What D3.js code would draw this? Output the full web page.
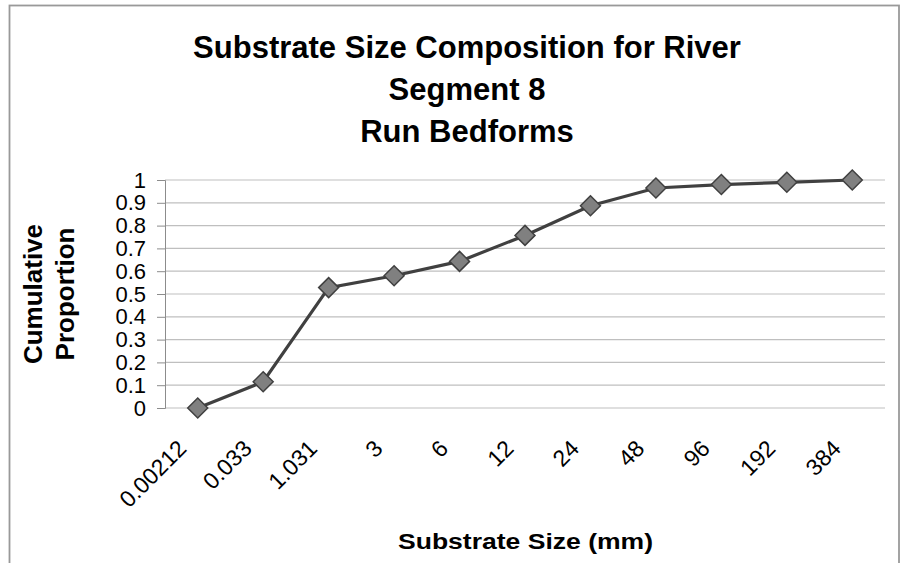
<!DOCTYPE html>
<html><head><meta charset="utf-8">
<script src="https://cdn.jsdelivr.net/npm/d3@7"></script>
<style>body{margin:0;background:#fff}svg{display:block}text{font-family:"Liberation Sans",Arial,sans-serif}</style>
</head><body>
<svg id="c" width="907" height="563"></svg>
<script>
const categories = ["0.00212","0.033","1.031","3","6","12","24","48","96","192","384"];
const values = [0, 0.115, 0.528, 0.58, 0.643, 0.757, 0.887, 0.965, 0.98, 0.99, 1.0];
const yTicks = [0,0.1,0.2,0.3,0.4,0.5,0.6,0.7,0.8,0.9,1];
const titleLines = ["Substrate Size Composition for River","Segment 8","Run Bedforms"];
const yTitleLines = ["Cumulative","Proportion"];
const xTitle = "Substrate Size (mm)";

const svg = d3.select("#c");
svg.append("rect").attr("x",9.5).attr("y",5.5).attr("width",889.5).attr("height",600)
  .attr("fill","#fff").attr("stroke","#999").attr("stroke-width",1.8);

const L=165, R=885, T=180, B=408;
const x = d3.scaleBand().domain(categories).range([L,R]);
const y = d3.scaleLinear().domain([0,1]).range([B,T]);
const cx = d => x(d)+x.bandwidth()/2;

// gridlines
svg.append("g").selectAll("line").data(yTicks).join("line")
  .attr("x1",L).attr("x2",R).attr("y1",d=>y(d)).attr("y2",d=>y(d))
  .attr("stroke","#bfbfbf").attr("stroke-width",1.2);

// y axis
const ya = svg.append("g").attr("transform",`translate(${L},0)`)
  .call(d3.axisLeft(y).tickValues(yTicks).tickSize(8).tickPadding(11).tickFormat(d=>String(+d.toFixed(1))));
ya.select(".domain").attr("stroke","#8c8c8c");
ya.selectAll(".tick line").attr("stroke","#8c8c8c");
ya.selectAll(".tick text").attr("font-size",22).attr("fill","#000").attr("font-family","Liberation Sans, Arial, sans-serif");

// x axis labels
svg.append("g").selectAll("text").data(categories).join("text")
  .attr("transform",d=>`translate(${cx(d)-10},${B+42}) rotate(-45)`)
  .attr("text-anchor","end").attr("font-size",23).text(d=>d);

// line
svg.append("path").datum(values)
  .attr("d", d3.line().x((d,i)=>cx(categories[i])).y(d=>y(d)))
  .attr("fill","none").attr("stroke","#404040").attr("stroke-width",3.2);

// markers
svg.append("g").selectAll("path").data(values).join("path")
  .attr("transform",(d,i)=>`translate(${cx(categories[i])},${y(d)})`)
  .attr("d","M0,-10L10,0L0,10L-10,0Z")
  .attr("fill","#808080").attr("stroke","#404040").attr("stroke-width",1.5);

// title
svg.append("g").selectAll("text").data(titleLines).join("text")
  .attr("x",467).attr("y",(d,i)=>58+i*42).attr("text-anchor","middle")
  .attr("font-size",31).attr("font-weight","bold").text(d=>d);

// y title
svg.append("g").selectAll("text").data(yTitleLines).join("text")
  .attr("transform",(d,i)=>`translate(${42+i*32},${(T+B)/2}) rotate(-90)`)
  .attr("text-anchor","middle").attr("font-size",26).attr("font-weight","bold").text(d=>d);

// x title
svg.append("text").attr("x",525.5).attr("y",549).attr("text-anchor","middle")
  .attr("font-size",22).attr("font-weight","bold")
  .attr("textLength",255).attr("lengthAdjust","spacingAndGlyphs").text(xTitle);
</script>
</body></html>
